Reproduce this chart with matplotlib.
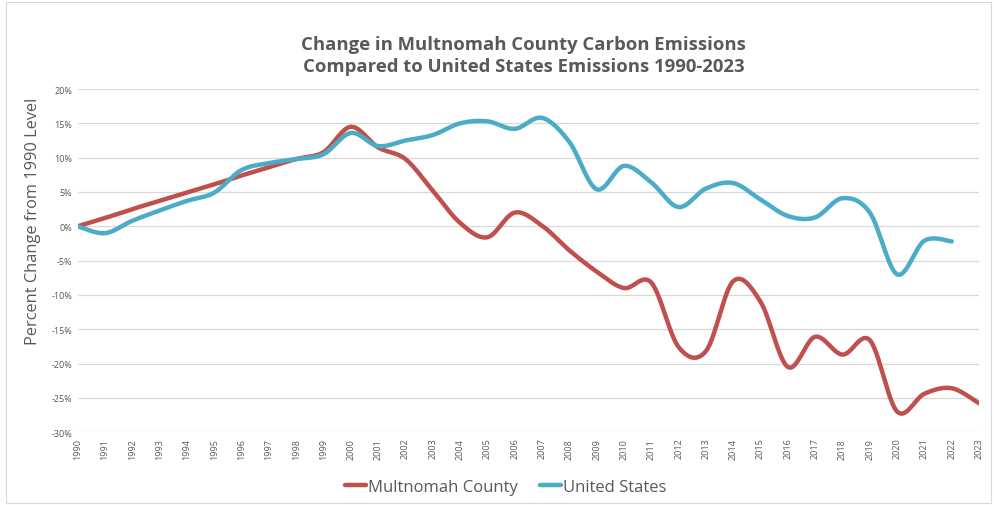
import numpy as np
import matplotlib.pyplot as plt
from matplotlib.patches import Rectangle

# -----------------------
# Data (percent change from 1990)
# -----------------------
years = list(range(1990, 2024))

multnomah = [
    0.0, 1.2, 2.5, 3.7, 4.9, 6.1, 7.4, 8.6, 9.8, 10.8,
    14.5, 11.5, 9.8, 5.2, 0.5, -1.6, 2.0, 0.1, -3.5, -6.6,
    -9.0, -8.2, -17.6, -18.2, -8.0, -11.0, -20.5, -16.1, -18.7, -16.6,
    -27.0, -24.4, -23.6, -25.8,
]

us_years = list(range(1990, 2023))
united_states = [
    0.0, -1.0, 0.8, 2.3, 3.7, 4.9, 8.2, 9.2, 9.8, 10.5,
    13.6, 11.7, 12.5, 13.3, 15.0, 15.3, 14.2, 15.8, 12.3, 5.4,
    8.8, 6.4, 2.8, 5.5, 6.3, 3.9, 1.5, 1.3, 4.1, 2.0,
    -7.0, -2.1, -2.2,
]

y_ticks = list(range(-30, 21, 5))

RED = "#C0504D"
BLUE = "#4BACC6"
GREY = "#595959"


def smooth(xs, ys, n=30):
    # Catmull-Rom style bezier smoothing, like spreadsheet "smoothed line"
    xs = np.asarray(xs, float)
    ys = np.asarray(ys, float)
    px = np.concatenate([[xs[0]], xs, [xs[-1]]])
    py = np.concatenate([[ys[0]], ys, [ys[-1]]])
    out_x, out_y = [], []
    t = np.linspace(0, 1, n)
    for i in range(1, len(px) - 2):
        p0 = np.array([px[i], py[i]])
        p3 = np.array([px[i + 1], py[i + 1]])
        c1 = p0 + (np.array([px[i + 1], py[i + 1]]) - np.array([px[i - 1], py[i - 1]])) / 6
        c2 = p3 - (np.array([px[i + 2], py[i + 2]]) - np.array([px[i], py[i]])) / 6
        b = ((1 - t) ** 3)[:, None] * p0 + (3 * (1 - t) ** 2 * t)[:, None] * c1 \
            + (3 * (1 - t) * t ** 2)[:, None] * c2 + (t ** 3)[:, None] * p3
        out_x.extend(b[:, 0])
        out_y.extend(b[:, 1])
    return np.array(out_x), np.array(out_y)


# -----------------------
# Plot
# -----------------------
plt.rcParams["font.family"] = ["Open Sans", "DejaVu Sans"]

fig = plt.figure(figsize=(9.95, 5.06), dpi=100)
ax = fig.add_axes([0.078, 0.144, 0.906, 0.678])

for v in y_ticks:
    ax.axhline(v, color="#D9D9D9", linewidth=0.9, zorder=0)

mx, my = smooth(years, multnomah)
ux, uy = smooth(us_years, united_states)

ax.plot(mx, my, color=RED, linewidth=3.2, solid_capstyle="round",
        label="Multnomah County")
ax.plot(ux, uy, color=BLUE, linewidth=3.2, solid_capstyle="round",
        label="United States")

ax.set_xlim(years[0], years[-1])
ax.set_ylim(-30, 20)

ax.set_yticks(y_ticks)
ax.set_yticklabels([f"{v}%" for v in y_ticks], fontsize=6.5, color=GREY)
ax.set_xticks(years)
ax.set_xticklabels([str(y) for y in years], rotation=90, fontsize=6.5,
                   color=GREY)
ax.tick_params(length=0, pad=4)

for s in ax.spines.values():
    s.set_visible(False)

ax.set_ylabel("Percent Change from 1990 Level", fontsize=11.8, color=GREY)
ax.yaxis.set_label_coords(-0.041, 0.618)

fig.text(0.526, 0.89, "Change in Multnomah County Carbon Emissions\n"
         "Compared to United States Emissions 1990-2023",
         ha="center", va="center", fontsize=13.3, fontweight="bold",
         color=GREY, linespacing=1.3)

leg = fig.legend(loc="center", bbox_to_anchor=(0.508, 0.035), ncol=2,
                 frameon=False, fontsize=12, handlelength=1.3,
                 handletextpad=0.1, columnspacing=1.3)
for t in leg.get_texts():
    t.set_color(GREY)

# chart border
fig.patches.append(Rectangle((0.006, 0.004), 0.99, 0.99, transform=fig.transFigure,
                             fill=False, edgecolor="#D9D9D9", linewidth=0.8))

plt.savefig("out.png", dpi=100, facecolor="white")
plt.close()
